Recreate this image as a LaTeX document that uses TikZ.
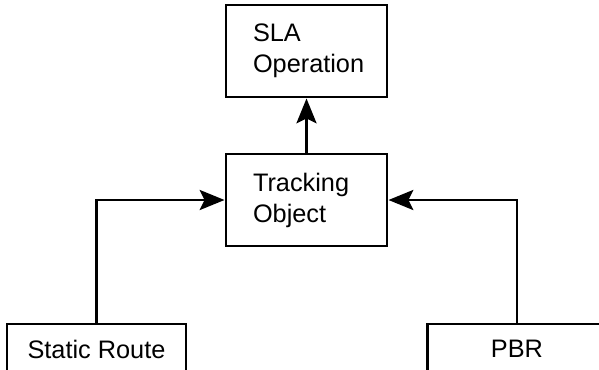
\documentclass[tikz,border=0pt]{standalone}
\usepackage{fontspec}
\setmainfont{Liberation Sans}
\usetikzlibrary{arrows.meta,positioning}

\begin{document}
\begin{tikzpicture}[
 blockbox/.style={draw=black,line width=2.1pt,text width=2.675cm,inner xsep=0.675cm,
  minimum height=2.3cm,align=left,font=\fontsize{18}{22}\selectfont},
 srcbox/.style={draw=black,line width=2.1pt,minimum width=4.475cm,minimum height=1.25cm,
  inner sep=0pt,font=\fontsize{18}{22}\selectfont},
 link/.style={line width=2.1pt,-{Stealth[length=0.62cm,width=0.5cm,inset=0.12cm]}}]
\useasboundingbox (0,0) rectangle (14.975,-9.225);
\node[blockbox] (sla) at (7.6625,-1.275) {SLA\\Operation};
\node[blockbox] (track) at (7.6625,-5.0) {Tracking\\Object};
\node[srcbox] (static) at (2.4125,-8.725) {Static Route};
\node[srcbox] (pbr) at (12.925,-8.725) {PBR};
\draw[link] (track.north) -- (sla.south);
\draw[link] (static.north) |- (track.west);
\draw[link] (pbr.north) |- (track.east);
\end{tikzpicture}
\end{document}
